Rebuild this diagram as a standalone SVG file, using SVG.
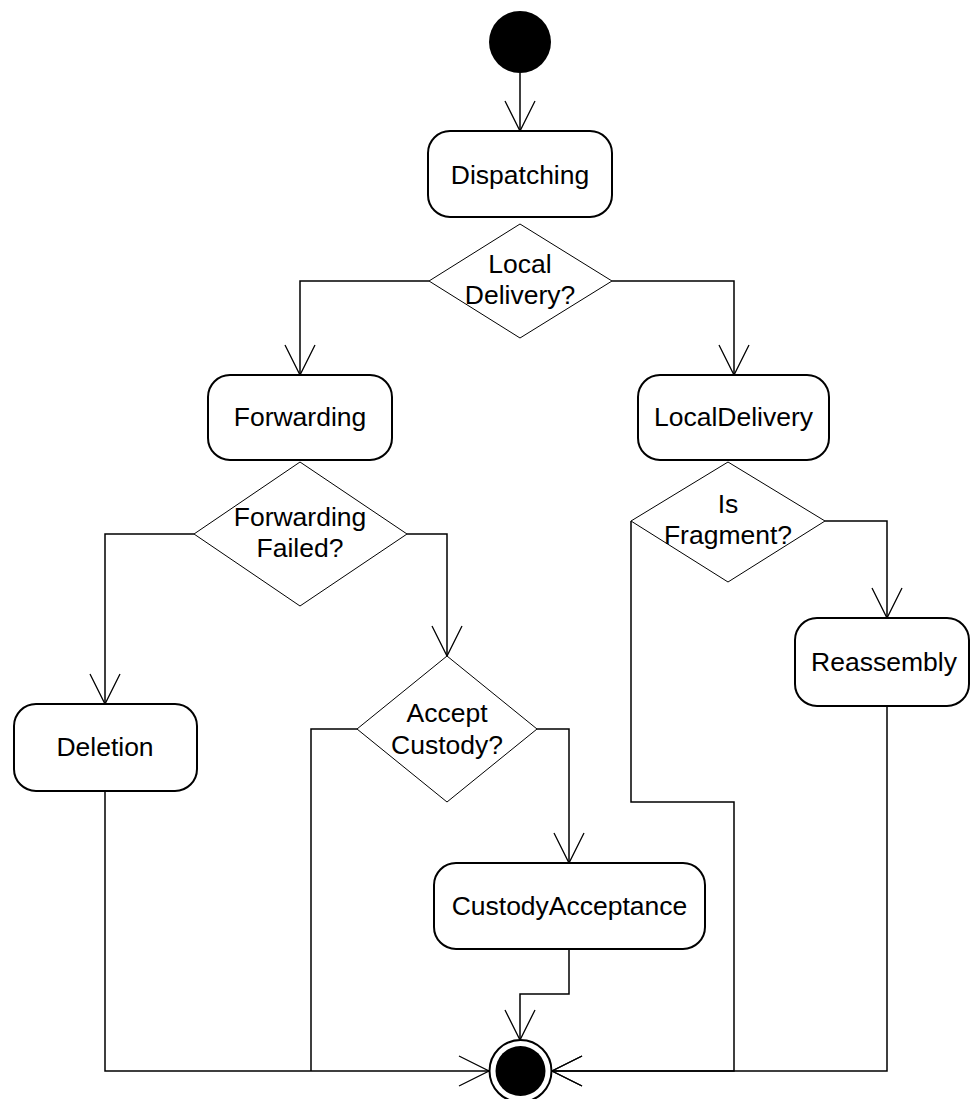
<svg xmlns="http://www.w3.org/2000/svg" width="971" height="1099" viewBox="0 0 971 1099">
<style>
.box{fill:#fff;stroke:#000;stroke-width:2}
.dia{fill:#fff;stroke:#000;stroke-width:1}
.lbl{font-family:"Liberation Sans",Arial,sans-serif;font-size:26.5px;fill:#000;text-anchor:middle}
.con{fill:none;stroke:#000;stroke-width:1.5;marker-end:url(#arr)}
.con2{fill:none;stroke:#000;stroke-width:1.5}
</style>
<defs>
<marker id="arr" markerUnits="userSpaceOnUse" viewBox="-32 -17 34 34" markerWidth="34" markerHeight="34" refX="0" refY="0" orient="auto" overflow="visible">
<path d="M-30,-15 L0,0 L-30,15" fill="none" stroke="#000" stroke-width="1.3"/>
</marker>
</defs>
<rect width="971" height="1099" fill="#fff"/>
<g id="connectors">
<path class="con" d="M520,73 V131"/>
<path class="con" d="M429,281 H300 V375"/>
<path class="con" d="M612,281 H734 V375"/>
<path class="con" d="M194,534 H105 V704"/>
<path class="con" d="M407,534 H447 V656"/>
<path class="con" d="M825,521 H887 V618"/>
<path class="con" d="M537,729 H569 V863"/>
<path class="con" d="M569,949 V994 H520 V1040"/>
<path class="con" d="M105,791 V1071 H489"/>
<path class="con2" d="M357,729 H311 V1071"/>
<path class="con" d="M631,521 V802 H734 V1071 H552"/>
<path class="con" d="M887,706 V1071 H552"/>
</g>
<g id="start"><circle cx="520" cy="42" r="31" fill="#000"/></g>
<g id="dispatching"><rect class="box" x="428" y="131" width="184" height="86" rx="22"/><text class="lbl" x="520" y="184">Dispatching</text></g>
<g id="localDeliveryDecision"><polygon class="dia" points="520,224 612,281 520,338 429,281"/><text class="lbl" x="520" y="273">Local</text><text class="lbl" x="520" y="304">Delivery?</text></g>
<g id="forwarding"><rect class="box" x="208" y="375" width="184" height="85" rx="22"/><text class="lbl" x="300" y="426">Forwarding</text></g>
<g id="localDelivery"><rect class="box" x="638" y="375" width="191" height="85" rx="22"/><text class="lbl" x="733.5" y="426">LocalDelivery</text></g>
<g id="forwardingFailed"><polygon class="dia" points="300,462 407,534 300,606 194,534"/><text class="lbl" x="300" y="526">Forwarding</text><text class="lbl" x="300" y="557">Failed?</text></g>
<g id="isFragment"><polygon class="dia" points="728,462 825,521 728,582 631,521"/><text class="lbl" x="728" y="513">Is</text><text class="lbl" x="728" y="544">Fragment?</text></g>
<g id="reassembly"><rect class="box" x="795" y="618" width="174" height="88" rx="22"/><text class="lbl" x="884" y="671">Reassembly</text></g>
<g id="deletion"><rect class="box" x="14" y="704" width="183" height="87" rx="22"/><text class="lbl" x="105" y="756">Deletion</text></g>
<g id="acceptCustody"><polygon class="dia" points="447,656 537,729 447,802 357,729"/><text class="lbl" x="447" y="722">Accept</text><text class="lbl" x="447" y="754">Custody?</text></g>
<g id="custodyAcceptance"><rect class="box" x="434" y="863" width="271" height="86" rx="22"/><text class="lbl" x="569.5" y="915">CustodyAcceptance</text></g>
<g id="final"><circle cx="520.5" cy="1071" r="31" fill="#fff" stroke="#000" stroke-width="2"/><circle cx="520.5" cy="1071" r="25" fill="#000"/></g>
</svg>
